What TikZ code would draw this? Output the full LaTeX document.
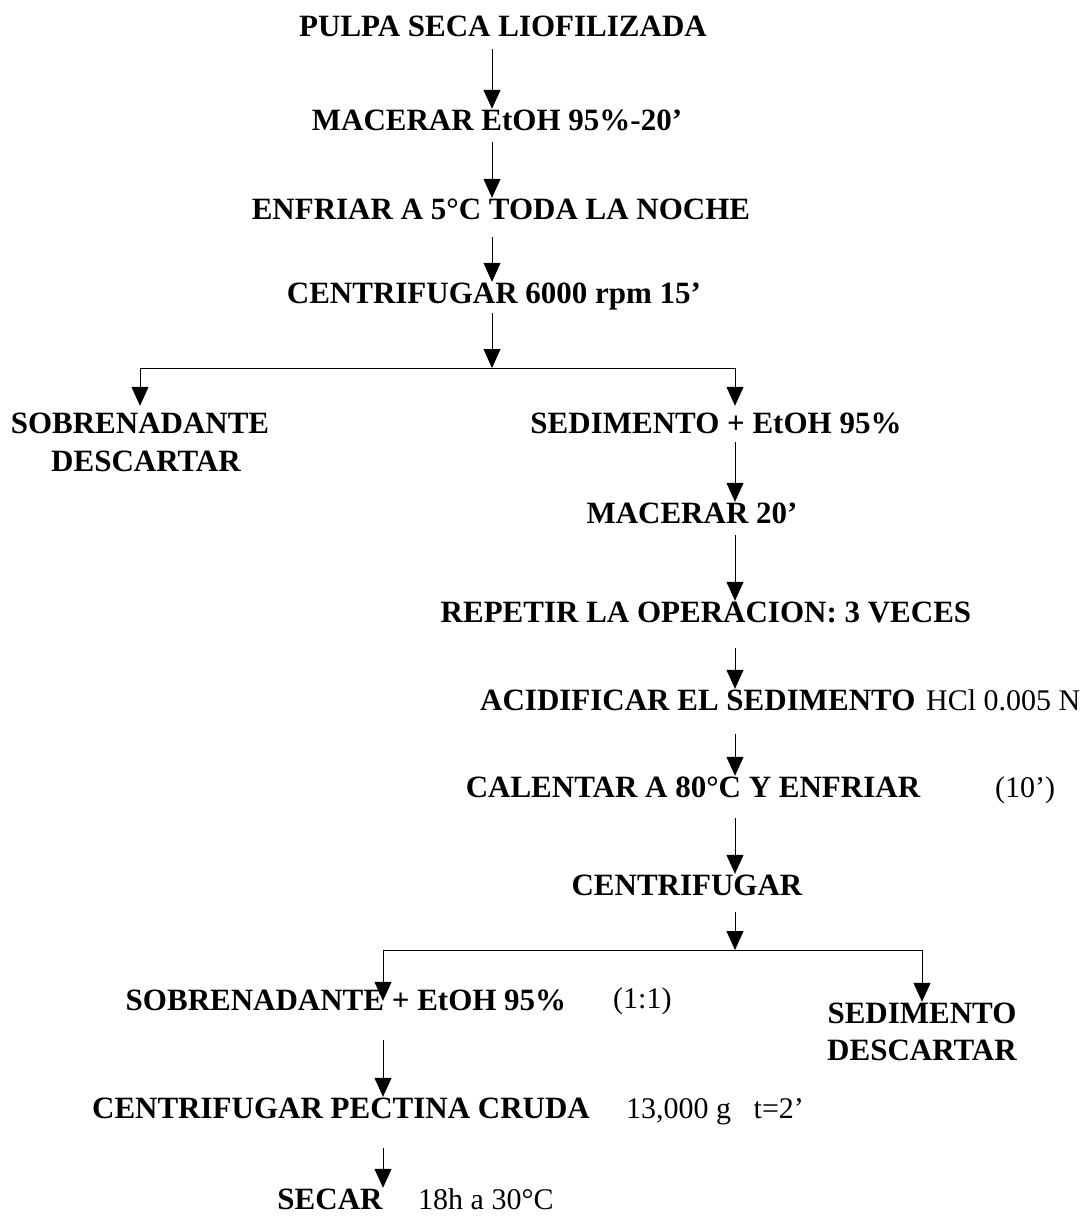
\documentclass[tikz,border=0pt]{standalone}
\usepackage{fontspec}
\setmainfont{Liberation Serif}
\usetikzlibrary{arrows.meta}
\begin{document}
\begin{tikzpicture}[x=1pt,y=-1pt,
  stage/.style={font=\fontsize{31}{37}\selectfont\bfseries, inner sep=0pt,
    text height=21pt, text depth=0pt, anchor=base},
  note/.style={font=\fontsize{30}{36}\selectfont, inner sep=0pt, anchor=base west},
  flow/.style={line width=1pt, -{Triangle[length=19pt,width=17pt]}},
  gap/.style={shorten <=#1}]
\useasboundingbox (0,0) rectangle (1085,1219);

% vertical guide lines of the three process columns
\coordinate (A) at (492,0);
\coordinate (B) at (735,0);
\coordinate (C) at (383,0);

% first stage: maceration and first centrifugation
\node[stage] (pulpa) at (503,36)  {PULPA SECA LIOFILIZADA};
\node[stage] (mac1)  at (497,130) {MACERAR EtOH 95\%-20’};
\node[stage] (enf)   at (501,219) {ENFRIAR A 5°C TODA LA NOCHE};
\node[stage] (cen1)  at (494,303) {CENTRIFUGAR 6000 rpm 15’};
\coordinate (split1) at (492,368);

\node[stage] (sob1)  at (140,433) {SOBRENADANTE};
\node[stage] (desc1) at (146,471) {DESCARTAR};
\node[stage] (sed1)  at (716,433) {SEDIMENTO + EtOH 95\%};

% second stage: washing and acid extraction
\node[stage] (mac2) at (692,523) {MACERAR 20’};
\node[stage] (rep)  at (706,622) {REPETIR LA OPERACION: 3 VECES};
\node[stage, anchor=base west] (acid) at (480,710) {ACIDIFICAR EL SEDIMENTO};
\node[note] (hcl) at (926,710) {HCl 0.005 N};
\node[stage] (cal) at (693,797) {CALENTAR A 80°C Y ENFRIAR};
\node[note] (t10) at (995,797) {(10’)};
\node[stage] (cen2) at (687,895) {CENTRIFUGAR};
\coordinate (split2) at (735,950);

% third stage: precipitation and drying
\node[stage] (sob2)  at (346,1010) {SOBRENADANTE + EtOH 95\%};
\node[note]  (ratio) at (613,1008) {(1:1)};
\node[stage] (sed2)  at (922,1023) {SEDIMENTO};
\node[stage] (desc2) at (922,1060) {DESCARTAR};
\node[stage] (pec)   at (341,1118) {CENTRIFUGAR PECTINA CRUDA};
\node[note]  (cond)  at (626,1118) {13,000 g\hspace{0.5em} t=2’};
\node[stage] (secar) at (330,1209) {SECAR};
\node[note]  (dry)   at (418,1209) {18h a 30°C};

% connectors
\draw[flow, gap=13pt] (pulpa.south -| A) -- (mac1.north -| A);
\draw[flow, gap=12pt] (mac1.south -| A) -- (enf.north -| A);
\draw[flow, gap=18pt] (enf.south -| A) -- (cen1.north -| A);
\draw[flow, gap=10pt] (cen1.south -| A) -- (split1);
\draw[flow, shorten >=6pt] (split1) -| (sob1.north);
\draw[flow, shorten >=6pt] (split1) -| (sed1.north -| B);

\draw[flow, gap=9pt]  (sed1.south -| B) -- (mac2.north -| B);
\draw[flow, gap=12pt] (mac2.south -| B) -- (rep.north -| B);
\draw[flow, gap=26pt] (rep.south -| B) -- (acid.north -| B);
\draw[flow, gap=24pt] (acid.south -| B) -- (cal.north -| B);
\draw[flow, gap=21pt] (cal.south -| B) -- (cen2.north -| B);
\draw[flow, gap=17pt] (cen2.south -| B) -- (split2);
\draw[flow, shorten >=-12pt] (split2) -| (sob2.north -| C);
\draw[flow] (split2) -| (sed2.north);

\draw[flow, gap=30pt] (sob2.south -| C) -- (pec.north -| C);
\draw[flow, gap=30pt] (pec.south -| C) -- (secar.north -| C);
\end{tikzpicture}
\end{document}
